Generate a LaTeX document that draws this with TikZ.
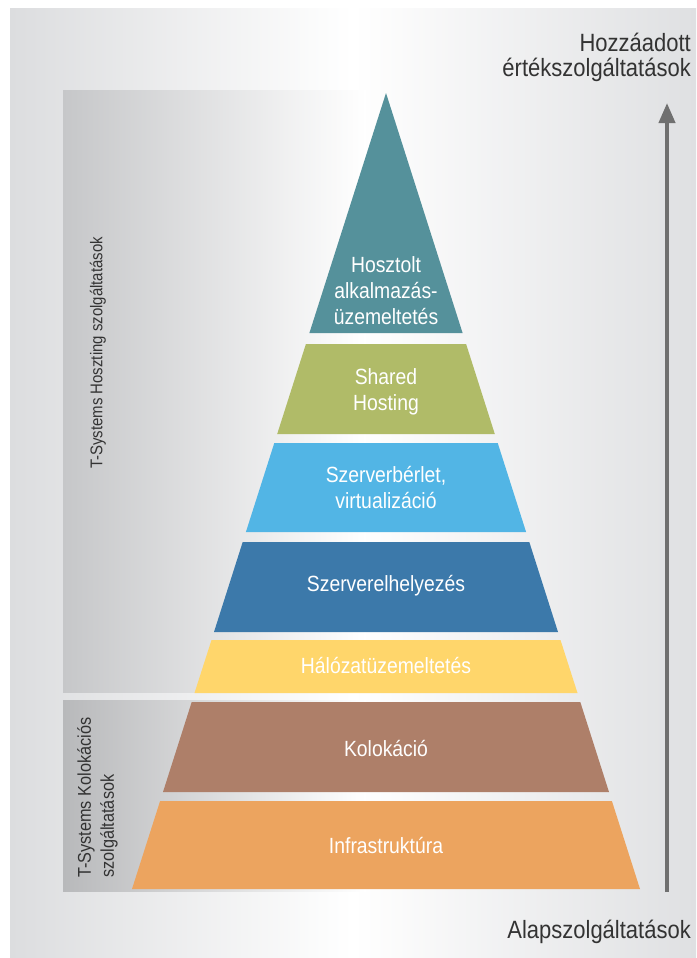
\documentclass[tikz,border=0pt]{standalone}
\usepackage{fontspec}
\setmainfont{Liberation Sans}[FakeStretch=0.88]
\usetikzlibrary{arrows.meta}
\definecolor{bgside}{HTML}{DCDDDF}
\definecolor{bgright}{HTML}{DFE0E2}
\definecolor{panelA}{HTML}{C6C7C9}
\definecolor{panelB}{HTML}{B8B9BB}
\definecolor{lteal}{HTML}{55919B}
\definecolor{lolive}{HTML}{B0BB68}
\definecolor{lsky}{HTML}{52B5E5}
\definecolor{lblue}{HTML}{3C79AA}
\definecolor{lyellow}{HTML}{FFD66B}
\definecolor{lbrown}{HTML}{AE7F69}
\definecolor{lorange}{HTML}{ECA45F}
\definecolor{arrowgray}{HTML}{707070}
\definecolor{txtdark}{HTML}{333333}
\tikzset{
  layertext/.style={text=white, align=center, inner sep=0pt, font=\fontsize{22}{26}\selectfont},
  sidelabel/.style={text=txtdark, inner sep=0pt, font=\fontsize{17}{22}\selectfont, rotate=90},
  axislabel/.style={text=txtdark, inner sep=0pt, font=\fontsize{25}{25}\selectfont},
}
\begin{document}
\begin{tikzpicture}[x=1pt,y=-1pt]
\useasboundingbox (0,0) rectangle (696,958);
\fill[white] (0,0) rectangle (696,958);
% background
\shade[left color=bgside, right color=bgright, middle color=white] (10,9) rectangle (696,957);
% side panels
\shade[left color=panelA, right color=white] (63,90) rectangle (366,692);
\shade[left color=panelB, right color=white] (63,700) rectangle (366,891);
% pyramid layers
\fill[lteal]   (386,93) -- (462.6,333) -- (309.4,333) -- cycle;
\fill[lolive]  (305.9,344) -- (466.1,344) -- (494.8,434) -- (277.2,434) -- cycle;
\fill[lsky]    (274.3,443) -- (497.7,443) -- (526.1,532) -- (245.9,532) -- cycle;
\fill[lblue]   (242.7,542) -- (529.3,542) -- (558.0,632) -- (214.0,632) -- cycle;
\fill[lyellow] (211.5,640) -- (560.5,640) -- (577.5,693) -- (194.5,693) -- cycle;
\fill[lbrown]  (191.7,702) -- (580.3,702) -- (609.0,792) -- (163.0,792) -- cycle;
\fill[lorange] (160.1,801) -- (611.9,801) -- (640,889) -- (132,889) -- cycle;
% layer texts
\node[layertext] (t1) at (386,291) {Hosztolt\\alkalmazás-\\üzemeltetés};
\node[layertext] (t2) at (386,392) {Shared\\Hosting};
\node[layertext] (t3) at (386,488) {Szerverbérlet,\\virtualizáció};
\node[layertext] (t4) at (386,586) {Szerverelhelyezés};
\node[layertext] (t5) at (386,665) {Hálózatüzemeltetés};
\node[layertext] (t6) at (386,748) {Kolokáció};
\node[layertext] (t7) at (386,845) {Infrastruktúra};
% side labels
\node[sidelabel] (sa) at (98,353) {T-Systems Hoszting szolgáltatások};
\node[sidelabel, align=left, anchor=north west, font=\fontsize{18.5}{23}\selectfont] (sb) at (77,878) {T-Systems Kolokációs\\szolgáltatások};
% axis
\coordinate (abot) at (667,892);
\coordinate (atop) at (667,103);
\draw[arrowgray, line width=4pt, -{Triangle[width=16pt,length=20pt]}] (abot) -- (atop);
\node[axislabel, align=right, anchor=north east] (top) at (691,33) {Hozzáadott\\értékszolgáltatások};
\node[axislabel, anchor=base east] (bot) at (691,938) {Alapszolgáltatások};
\end{tikzpicture}
\end{document}
